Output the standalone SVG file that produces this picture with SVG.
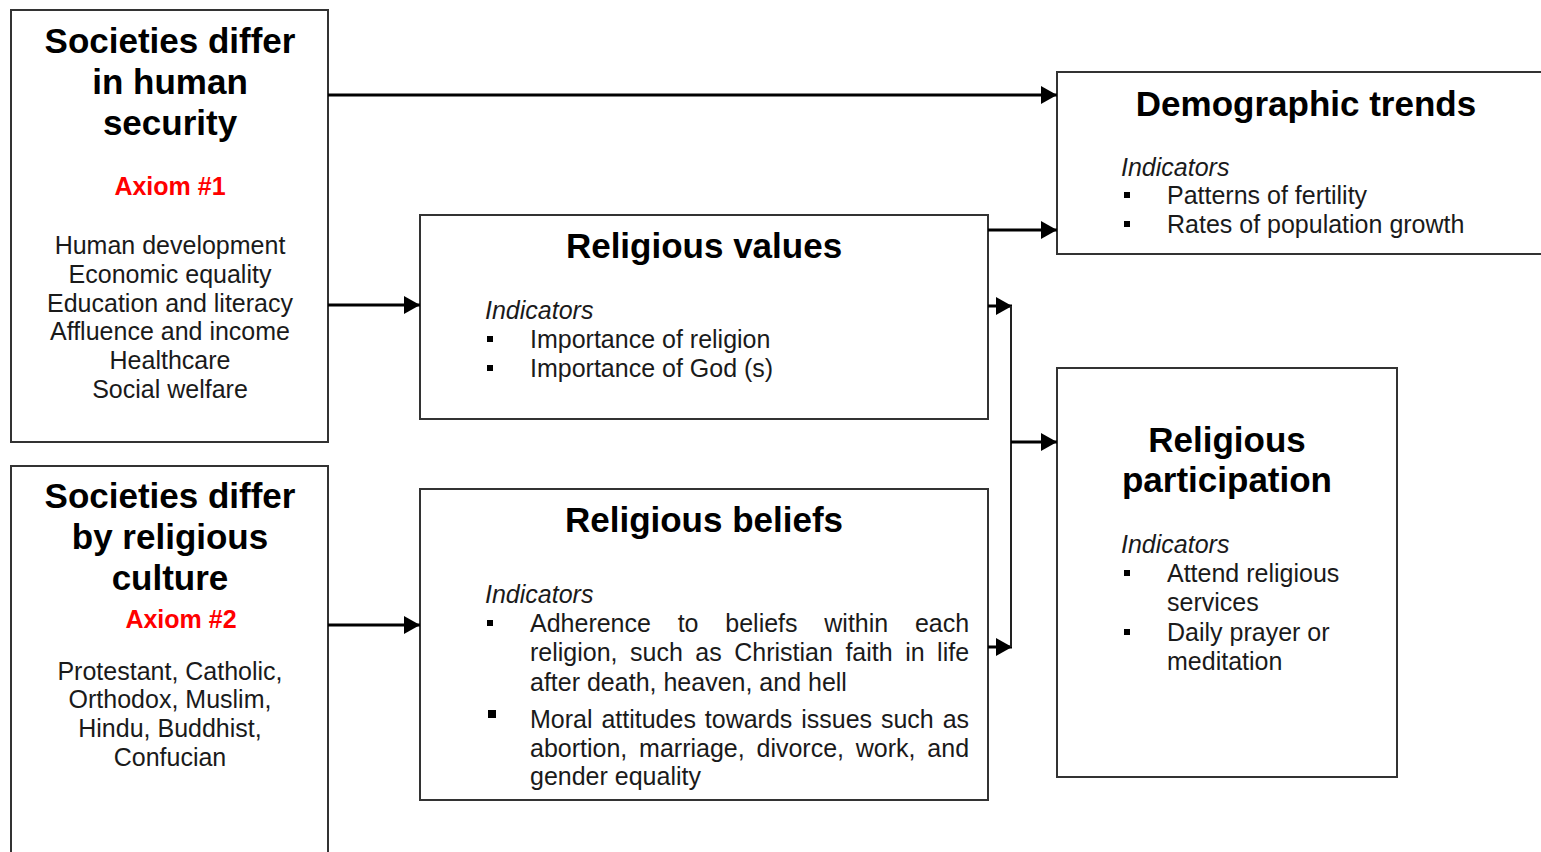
<svg xmlns="http://www.w3.org/2000/svg" width="1541" height="852" viewBox="0 0 1541 852">
<style>
.box{fill:#fff;stroke:#333;stroke-width:2}
.t{font-family:"Liberation Sans",Arial,sans-serif;font-size:35px;font-weight:bold;fill:#000;text-anchor:middle}
.ax{font-family:"Liberation Sans",Arial,sans-serif;font-size:25px;font-weight:bold;fill:#ff0000;text-anchor:middle}
.b{font-family:"Liberation Sans",Arial,sans-serif;font-size:25px;fill:#1a1a1a}
.c{text-anchor:middle}
.i{font-style:italic}
.bul{fill:#000}
.con{fill:none;stroke:#000;stroke-width:3}
.vl{fill:none;stroke:#222;stroke-width:2}
</style>
<defs>
<marker id="ah" markerUnits="userSpaceOnUse" markerWidth="16" markerHeight="18" refX="16" refY="9" orient="auto">
<path d="M0,0 L16,9 L0,18 z" fill="#000"/>
</marker>
</defs>
<rect width="1541" height="852" fill="#fff"/>

<g id="security">
<rect class="box" x="11" y="10" width="317" height="432"/>
<text class="t" x="170" y="53">Societies differ</text>
<text class="t" x="170" y="94">in human</text>
<text class="t" x="170" y="135">security</text>
<text class="ax" x="170" y="195">Axiom #1</text>
<text class="b c" x="170" y="254">Human development</text>
<text class="b c" x="170" y="283">Economic equality</text>
<text class="b c" x="170" y="312">Education and literacy</text>
<text class="b c" x="170" y="340">Affluence and income</text>
<text class="b c" x="170" y="369">Healthcare</text>
<text class="b c" x="170" y="398">Social welfare</text>
</g>

<g id="culture">
<rect class="box" x="11" y="466" width="317" height="400"/>
<text class="t" x="170" y="508">Societies differ</text>
<text class="t" x="170" y="549">by religious</text>
<text class="t" x="170" y="590">culture</text>
<text class="ax" x="181" y="628">Axiom #2</text>
<text class="b c" x="170" y="680">Protestant, Catholic,</text>
<text class="b c" x="170" y="708">Orthodox, Muslim,</text>
<text class="b c" x="170" y="737">Hindu, Buddhist,</text>
<text class="b c" x="170" y="766">Confucian</text>
</g>

<g id="values">
<rect class="box" x="420" y="215" width="568" height="204"/>
<text class="t" x="704" y="258">Religious values</text>
<text class="b i" x="485" y="319">Indicators</text>
<rect class="bul" x="487" y="336" width="6" height="6"/>
<text class="b" x="530" y="348">Importance of religion</text>
<rect class="bul" x="487" y="365" width="6" height="6"/>
<text class="b" x="530" y="377">Importance of God (s)</text>
</g>

<g id="beliefs">
<rect class="box" x="420" y="489" width="568" height="311"/>
<text class="t" x="704" y="532">Religious beliefs</text>
<text class="b i" x="485" y="603">Indicators</text>
<rect class="bul" x="487" y="620" width="6" height="6"/>
<text class="b" x="530" y="632" word-spacing="19.8">Adherence to beliefs within each</text>
<text class="b" x="530" y="661" word-spacing="5.55">religion, such as Christian faith in life</text>
<text class="b" x="530" y="691">after death, heaven, and hell</text>
<rect class="bul" x="488" y="710" width="8" height="8"/>
<text class="b" x="530" y="728" word-spacing="1.94">Moral attitudes towards issues such as</text>
<text class="b" x="530" y="757" word-spacing="4.85">abortion, marriage, divorce, work, and</text>
<text class="b" x="530" y="785">gender equality</text>
</g>

<g id="demographic">
<rect class="box" x="1057" y="72" width="498" height="182"/>
<text class="t" x="1306" y="116">Demographic trends</text>
<text class="b i" x="1121" y="176">Indicators</text>
<rect class="bul" x="1124" y="192" width="6" height="6"/>
<text class="b" x="1167" y="204">Patterns of fertility</text>
<rect class="bul" x="1124" y="221" width="6" height="6"/>
<text class="b" x="1167" y="233">Rates of population growth</text>
</g>

<g id="participation">
<rect class="box" x="1057" y="368" width="340" height="409"/>
<text class="t" x="1227" y="452">Religious</text>
<text class="t" x="1227" y="492">participation</text>
<text class="b i" x="1121" y="553">Indicators</text>
<rect class="bul" x="1124" y="570" width="6" height="6"/>
<text class="b" x="1167" y="582">Attend religious</text>
<text class="b" x="1167" y="611">services</text>
<rect class="bul" x="1124" y="629" width="6" height="6"/>
<text class="b" x="1167" y="641">Daily prayer or</text>
<text class="b" x="1167" y="670">meditation</text>
</g>

<g id="connectors">
<path class="con" d="M328,95 H1057" marker-end="url(#ah)"/>
<path class="con" d="M988,230 H1057" marker-end="url(#ah)"/>
<path class="con" d="M328,305 H420" marker-end="url(#ah)"/>
<path class="con" d="M328,625 H420" marker-end="url(#ah)"/>
<path class="con" d="M988,306 H1012" marker-end="url(#ah)"/>
<path class="con" d="M988,647 H1012" marker-end="url(#ah)"/>
<path class="vl" d="M1011,306 V647"/>
<path class="con" d="M1011,442 H1057" marker-end="url(#ah)"/>
</g>
</svg>
